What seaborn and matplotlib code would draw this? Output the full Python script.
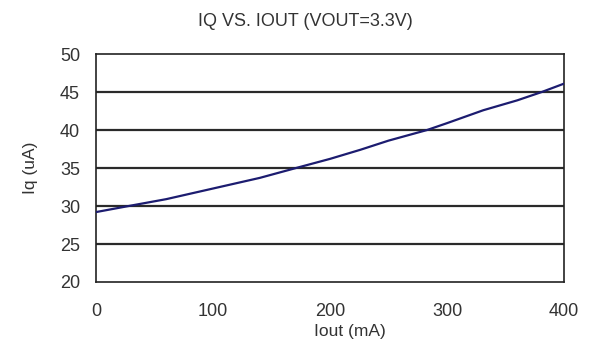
import matplotlib
matplotlib.use("Agg")
import matplotlib.pyplot as plt
import seaborn as sns
import pandas as pd

iout_ma = [0, 28, 60, 100, 140, 171, 200, 226, 250, 283, 300, 331, 360, 381, 400]
iq_ua = [29.2, 30.0, 30.9, 32.3, 33.7, 35.0, 36.2, 37.4, 38.6, 40.0, 40.9, 42.6, 43.9, 45.0, 46.1]
x_ticks = [0, 100, 200, 300, 400]
y_ticks = [20, 25, 30, 35, 40, 45, 50]

sns.set_theme(style="white")
plt.rcParams['font.family'] = ['Liberation Sans', 'DejaVu Sans']

df = pd.DataFrame({"Iout": iout_ma, "Iq": iq_ua})

fig = plt.figure(figsize=(5.9, 3.45), dpi=100)
ax = fig.add_axes([96/590, 1 - 282/345, (564-96)/590, (282-54)/345])

for y in y_ticks[1:-1]:
    ax.axhline(y, color="#2a2a2a", lw=1.6, zorder=1)

sns.lineplot(data=df, x="Iout", y="Iq", ax=ax, color="#1c1c70", lw=1.6, zorder=3)

ax.set_xlim(0, 400)
ax.set_ylim(20, 50)
ax.set_xticks(x_ticks)
ax.set_yticks(y_ticks)
ax.tick_params(axis="both", direction="in", length=3, width=1, colors="#222222",
               labelsize=13, labelcolor="#333333")
ax.tick_params(axis="x", pad=15)
ax.tick_params(axis="y", pad=11.5)
for s in ax.spines.values():
    s.set_color("#222222")
    s.set_linewidth(1.2)
ax.set_xlabel("Iout (mA)", fontsize=12.5, color="#333333")
ax.set_ylabel("Iq (uA)", fontsize=12.5, color="#333333")
ax.xaxis.set_label_coords((350 - 96) / 468, (282 - 324) / 228)
ax.yaxis.set_label_coords((38 - 96) / 468, 0.5)
fig.text(305/590, 1 - 22/345, "IQ VS. IOUT (VOUT=3.3V)", ha="center", va="center",
         fontsize=13, color="#333333")

fig.savefig("out.png", dpi=100, facecolor="white")
